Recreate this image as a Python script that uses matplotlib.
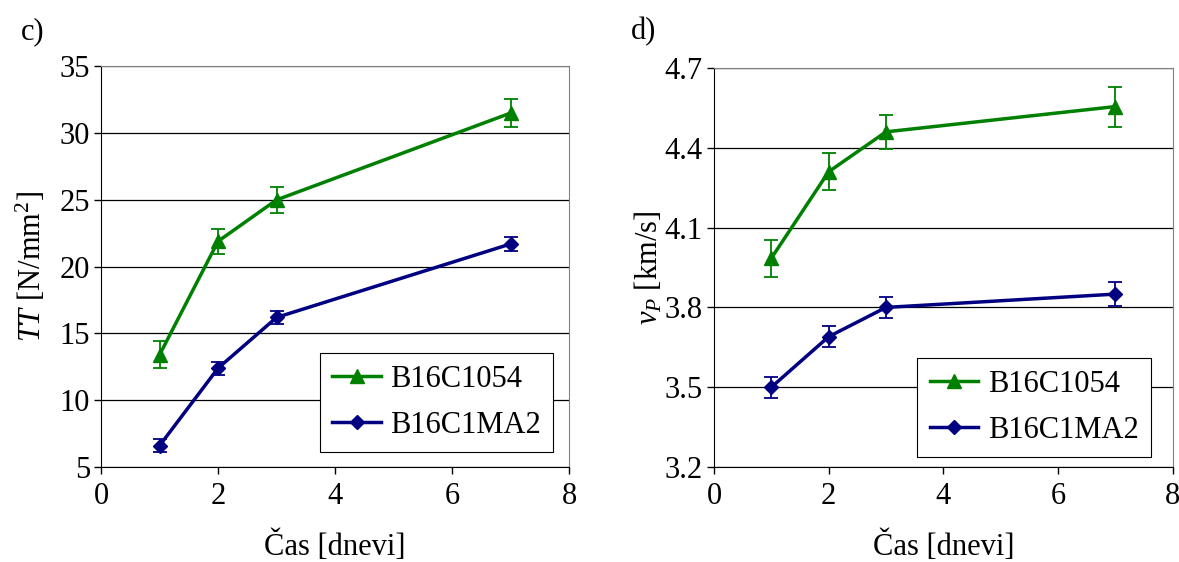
import matplotlib.pyplot as plt
from matplotlib.lines import Line2D

plt.rcParams['font.family'] = ['Liberation Serif', 'DejaVu Serif']
plt.rcParams['mathtext.fontset'] = 'custom'
plt.rcParams['mathtext.rm'] = 'Liberation Serif'
plt.rcParams['mathtext.it'] = 'Liberation Serif:italic'

days = [1, 2, 3, 7]

# c) TT [N/mm2]
tt_1054 = [13.4, 21.9, 25.0, 31.5]
tt_1054_err = [1.0, 0.95, 1.0, 1.05]
tt_ma2 = [6.6, 12.4, 16.2, 21.7]
tt_ma2_err = [0.5, 0.5, 0.5, 0.55]

# d) vP [km/s]
vp_1054 = [3.985, 4.31, 4.46, 4.555]
vp_1054_err = [0.07, 0.07, 0.065, 0.075]
vp_ma2 = [3.50, 3.69, 3.80, 3.85]
vp_ma2_err = [0.04, 0.04, 0.04, 0.045]

green = '#008000'
navy = '#000080'
fs = 22

fig = plt.figure(figsize=(11.79, 5.62), dpi=100)
ax1 = fig.add_axes([0.0857, 0.169, 0.397, 0.713])
ax2 = fig.add_axes([0.6056, 0.169, 0.389, 0.710])


def draw(ax, y1, e1, y2, e2, ylim, yticks, ylabel, legx, legy, ypad):
    ax.errorbar(days, y1, yerr=e1, color=green, lw=2.5, marker='^', ms=10,
                capsize=5, elinewidth=1.3, capthick=1.3, zorder=3)
    ax.errorbar(days, y2, yerr=e2, color=navy, lw=2.5, marker='D', ms=7,
                capsize=5, elinewidth=1.3, capthick=1.3, zorder=3)
    ax.set_xlim(0, 8)
    ax.set_ylim(*ylim)
    ax.set_xticks([0, 2, 4, 6, 8])
    ax.set_yticks(yticks)
    ax.yaxis.grid(True, color='black', lw=0.9)
    ax.set_axisbelow(True)
    for s in ['top', 'right']:
        ax.spines[s].set_color('#808080')
    for s in ['left', 'bottom']:
        ax.spines[s].set_color('black')
    ax.tick_params(direction='out', length=5, labelsize=fs, width=1)
    ax.tick_params(axis='x', pad=6)
    ax.tick_params(axis='y', pad=3)
    ax.set_xlabel('Čas [dnevi]', fontsize=fs, labelpad=14)
    ax.set_ylabel(ylabel, fontsize=fs, labelpad=ypad)
    handles = [Line2D([], [], color=green, lw=2.5, marker='^', ms=10),
               Line2D([], [], color=navy, lw=2.5, marker='D', ms=7)]
    leg = ax.legend(handles, ['B16C1054', 'B16C1MA2'], loc='lower right',
                    bbox_to_anchor=(legx, legy), fontsize=fs,
                    fancybox=False, framealpha=1, edgecolor='black',
                    handlelength=1.6, borderpad=0.4, labelspacing=0.55,
                    handletextpad=0.3, borderaxespad=0)
    leg.get_frame().set_linewidth(0.8)


draw(ax1, tt_1054, tt_1054_err, tt_ma2, tt_ma2_err, (5, 35),
     [5, 10, 15, 20, 25, 30, 35], r'$TT$ [N/mm$^2$]', 0.966, 0.037, 8)
draw(ax2, vp_1054, vp_1054_err, vp_ma2, vp_ma2_err, (3.2, 4.7),
     [3.2, 3.5, 3.8, 4.1, 4.4, 4.7], r'$v_P$ [km/s]', 0.952, 0.025, 0)
ax2.set_yticklabels(['3.2', '3.5', '3.8', '4.1', '4.4', '4.7'])

fig.text(0.018, 0.93, 'c)', fontsize=fs)
fig.text(0.535, 0.93, 'd)', fontsize=fs)

fig.savefig('out.png', dpi=100)
